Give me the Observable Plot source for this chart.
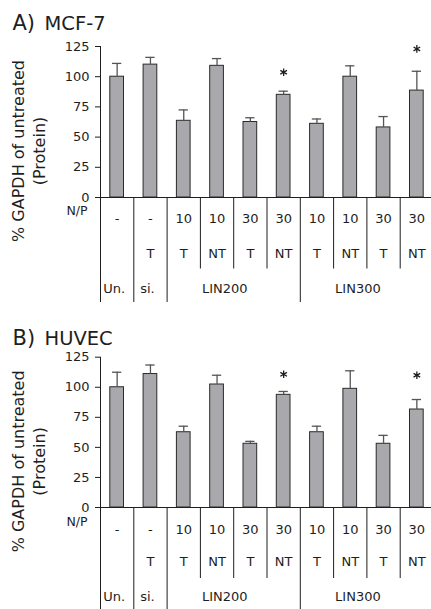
<!DOCTYPE html>
<html><head><meta charset="utf-8">
<script src="https://cdn.jsdelivr.net/npm/d3@7"></script>
<script src="https://cdn.jsdelivr.net/npm/@observablehq/plot@0.6"></script>
<style>
body{margin:0;background:#fff;}
#chart svg{display:block;}
</style>
</head><body><div id="chart"></div>
<script>
// ---- data ----
const npLabels   = ["-", "-", "10", "10", "30", "30", "10", "10", "30", "30"];
const typeLabels = ["", "T", "T", "NT", "T", "NT", "T", "NT", "T", "NT"];
const groupNames = ["Un.", "si.", "LIN200", "LIN300"];
const groupStart = [0, 1, 2, 6];
const groupEnd   = [1, 2, 6, 10];
const yTicks     = [0, 25, 50, 75, 100, 125];

// Panel A: MCF-7
const mcfValues = [100, 110, 63.5, 109, 62.5, 85, 61, 100, 58, 88.5];
const mcfErrors = [11, 6, 9, 6, 3.5, 3, 4, 9, 9, 16];
const mcfStars  = [null, null, null, null, null, 103.7, null, null, null, 123];

// Panel B: HUVEC
const huvValues = [100, 111, 62.6, 102.3, 53, 93.7, 62.6, 98.7, 53, 81.5];
const huvErrors = [12.5, 7.5, 5, 7.7, 2, 2.8, 5, 15, 7, 8.3];
const huvStars  = [null, null, null, null, null, 110.8, null, null, null, 110];

const yLabel = "% GAPDH of untreated\n(Protein)";

// ---- drawing ----
const ink = "#1e1e1e";
const longDiv = Array.from(new Set([...groupStart, ...groupEnd]));
const shortDiv = d3.range(0, 11).filter(k => !longDiv.includes(k));
const groups = groupNames.map((name, k) => ({name, start: groupStart[k], end: groupEnd[k], small: groupEnd[k] - groupStart[k] === 1}));

function panel({letter, name, values, errors, stars, top, zero, height, titleY, rows}) {
  const data = values.map((v, i) => ({i, v, t: v + errors[i], star: stars[i], np: npLabels[i], type: typeLabels[i]}));
  return Plot.plot({
    width: 431,
    height,
    marginLeft: 100,
    marginRight: 0,
    marginTop: top,
    marginBottom: height - zero,
    style: {fontFamily: "'DejaVu Sans', sans-serif", fontSize: "13px", color: ink, background: "white", overflow: "visible"},
    x: {domain: [0, 10], range: [100, 433], axis: null},
    y: {domain: [0, 125], axis: null},
    marks: [
      // bars
      Plot.rectY(data, {x1: "i", x2: d => d.i + 1, y: "v", insetLeft: 9.8, insetRight: 9.8, fill: "#a9a9ad", stroke: "#2a2a2a", strokeWidth: 1}),
      // error bars (upper only)
      Plot.ruleX(data, {x: d => d.i + 0.5, y1: "v", y2: "t", stroke: "#555", strokeWidth: 1.3}),
      Plot.ruleY(data, {y: "t", x1: "i", x2: d => d.i + 1, insetLeft: 12, insetRight: 12, stroke: "#555", strokeWidth: 1.3}),
      // significance stars
      Plot.dot(data.filter(d => d.star != null), {x: d => d.i + 0.5, y: "star", symbol: "asterisk", r: 3.6, stroke: ink, strokeWidth: 1.3}),
      // axis lines
      Plot.ruleY([0], {stroke: ink, strokeWidth: 1}),
      Plot.ruleX([0], {stroke: ink, strokeWidth: 1}),
      Plot.axisY(yTicks, {tickSize: 5, tickPadding: 6, label: null, stroke: ink, fill: ink, fontSize: 13}),
      // table dividers
      Plot.axisX(longDiv, {tickSize: rows.long, fill: "none", label: null, stroke: ink}),
      Plot.axisX(shortDiv, {tickSize: rows.short, fill: "none", label: null, stroke: ink}),
      // table text
      Plot.text(["N/P"], {frameAnchor: "bottom-left", textAnchor: "end", dx: -13, dy: rows.np, fill: ink, fontSize: 12.5}),
      Plot.text(data, {x: d => d.i + 0.5, text: "np", frameAnchor: "bottom", dy: rows.val, fill: ink, fontSize: 13}),
      Plot.text(data, {x: d => d.i + 0.5, text: "type", frameAnchor: "bottom", dy: rows.type, fill: ink, fontSize: 13}),
      Plot.text(groups.filter(g => g.small), {x: g => (g.start + g.end) / 2, text: "name", frameAnchor: "bottom", dy: rows.group, dx: -3, fill: ink, fontSize: 13}),
      Plot.text(groups.filter(g => !g.small), {x: g => (g.start + g.end) / 2, text: "name", frameAnchor: "bottom", dy: rows.group, dx: -9, fill: ink, fontSize: 13}),
      // y label
      Plot.text([yLabel], {frameAnchor: "left", textAnchor: "middle", rotate: -90, dx: -73, dy: 29, fill: ink, fontSize: 16, lineHeight: 1.3}),
      // title
      Plot.text([letter], {frameAnchor: "top-left", textAnchor: "start", lineAnchor: "bottom", dx: 12 - 100, dy: titleY - top, fill: ink, fontSize: 21}),
      Plot.text([name], {frameAnchor: "top-left", textAnchor: "start", lineAnchor: "bottom", dx: 44 - 100, dy: titleY - top, fill: ink, fontSize: 19.5})
    ]
  });
}

const chart = document.getElementById("chart");
chart.append(panel({
  letter: "A)", name: "MCF-7", values: mcfValues, errors: mcfErrors, stars: mcfStars,
  top: 46, zero: 197, height: 305, titleY: 29.5,
  rows: {np: 17.5, val: 25.5, type: 60, group: 95.5, short: 71.5, long: 105}
}));
chart.append(panel({
  letter: "B)", name: "HUVEC", values: huvValues, errors: huvErrors, stars: huvStars,
  top: 51.7, zero: 202, height: 304, titleY: 39.5,
  rows: {np: 18, val: 26, type: 58.5, group: 93.5, short: 71, long: 102}
}));
</script>
</body></html>
